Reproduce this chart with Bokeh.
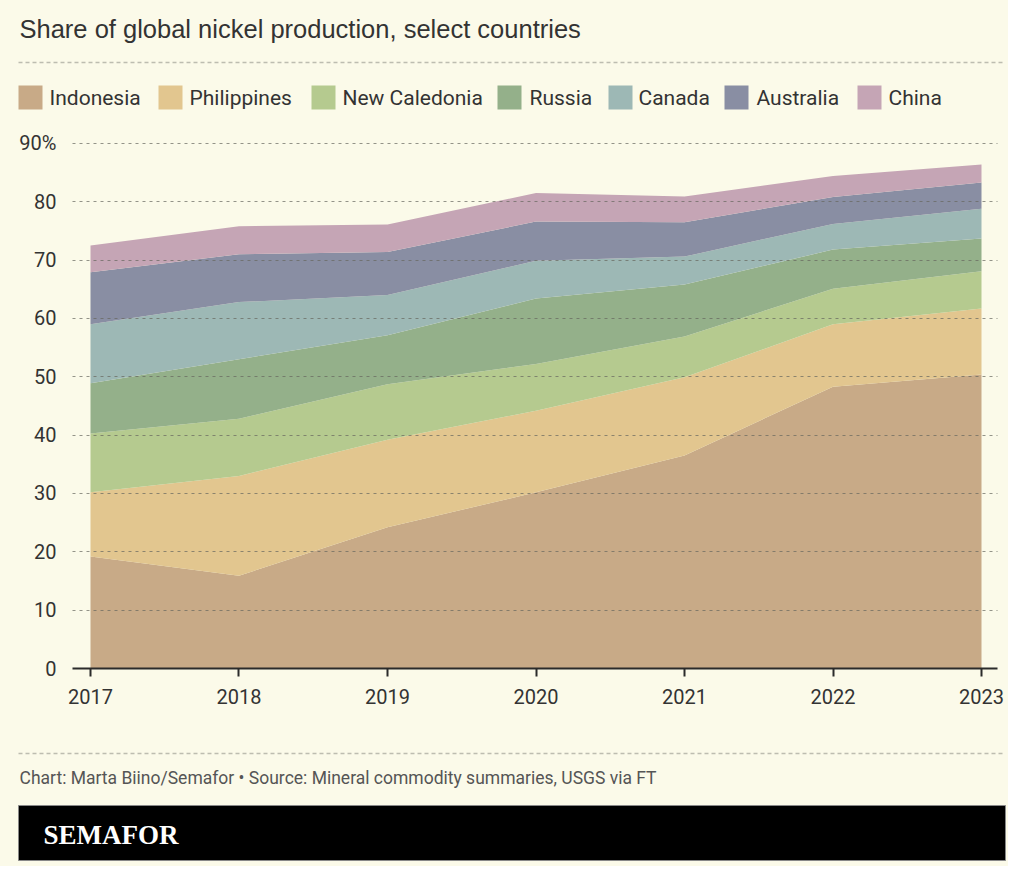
from bokeh.plotting import figure
from bokeh.models import ColumnDataSource, Range1d, FixedTicker
from bokeh.layouts import column
from bokeh.core.properties import value
from bokeh.embed import file_html
from bokeh.resources import INLINE

# ---- data ----
years = [2017, 2018, 2019, 2020, 2021, 2022, 2023]
countries = ["Indonesia", "Philippines", "New Caledonia", "Russia", "Canada", "Australia", "China"]
indonesia = [19.2, 15.9, 24.2, 30.2, 36.5, 48.3, 50.4]
philippines = [11.0, 17.1, 15.0, 14.0, 13.4, 10.7, 11.3]
new_caledonia = [10.1, 9.8, 9.5, 8.0, 7.0, 6.1, 6.4]
russia = [8.6, 10.2, 8.4, 11.2, 8.9, 6.7, 5.6]
canada = [10.1, 9.8, 6.9, 6.5, 4.8, 4.4, 5.1]
australia = [8.9, 8.2, 7.4, 6.7, 5.9, 4.6, 4.5]
china = [4.6, 4.8, 4.7, 4.9, 4.4, 3.6, 3.1]
y_ticks = [0, 10, 20, 30, 40, 50, 60, 70, 80, 90]

colors = ["#c8aa87", "#e2c68f", "#b5ca8f", "#94b08a", "#9db8b5", "#898ea3", "#c5a5b5"]

BG = "#fbfae9"
TXT = "#333333"
W = 1008

title_text = "Share of global nickel production, select countries"
source_text = "Chart: Marta Biino/Semafor \u2022 Source: Mineral commodity summaries, USGS via FT"


def blank(y0, y1):
    f = figure(width=W, height=y1 - y0, x_range=Range1d(0, W), y_range=Range1d(y1, y0),
               output_backend="svg", toolbar_location=None, min_border=0,
               x_axis_location=None, y_axis_location=None, frame_align=False)
    f.grid.visible = False
    f.outline_line_color = None
    f.background_fill_color = BG
    f.border_fill_color = BG
    return f


# ---- header ----
head = blank(0, 120)
head.text(x=[19], y=[28], text=[title_text], text_font=value("Liberation Sans"),
          text_font_size="25.5px", text_color=TXT, text_baseline="middle")
head.line(x=[18, 1005], y=[62, 62], line_color="#bdbdb0", line_dash="4 3", line_width=1.5)
sq_left = [18, 158, 311, 497, 608, 724, 857]
lab_left = [49, 189, 342, 529, 638, 756, 888]
head.quad(left=sq_left, right=[v + 24 for v in sq_left], top=[85] * 7, bottom=[109] * 7,
          fill_color=colors, line_color=None)
head.text(x=lab_left, y=[97] * 7, text=countries, text_font=value("Roboto"),
          text_font_size="21px", text_color=TXT, text_baseline="middle")

# ---- main chart ----
src = ColumnDataSource(dict(year=years, Indonesia=indonesia, Philippines=philippines,
                            NewCaledonia=new_caledonia, Russia=russia, Canada=canada,
                            Australia=australia, China=china))
p = figure(width=W, height=620, x_range=Range1d(2016.8788, 2023.1077), y_range=Range1d(0, 90.5),
           output_backend="svg", toolbar_location=None, frame_align=False,
           min_border_top=20, min_border_bottom=72, min_border_left=72, min_border_right=11)
p.background_fill_color = BG
p.border_fill_color = BG
p.outline_line_color = None
p.varea_stack(stackers=["Indonesia", "Philippines", "NewCaledonia", "Russia", "Canada",
                        "Australia", "China"], x="year", color=colors, source=src)

p.xaxis.ticker = FixedTicker(ticks=years)
p.yaxis.ticker = FixedTicker(ticks=y_ticks)
p.yaxis.major_label_overrides = {90: "90%"}
p.xgrid.visible = False
p.ygrid.grid_line_color = "#66665e"
p.ygrid.grid_line_alpha = 0.7
p.ygrid.grid_line_dash = "3 4"
p.ygrid.grid_line_width = 1.2
p.ygrid.level = "overlay"

p.yaxis.axis_line_color = None
p.yaxis.major_tick_line_color = None
p.yaxis.minor_tick_line_color = None
p.yaxis.major_label_standoff = 10

p.xaxis.axis_line_color = "#2b2b2b"
p.xaxis.axis_line_width = 2
p.xaxis.major_tick_line_color = "#2b2b2b"
p.xaxis.major_tick_line_width = 2
p.xaxis.major_tick_out = 8
p.xaxis.major_tick_in = 0
p.xaxis.minor_tick_line_color = None
p.xaxis.major_label_standoff = 12

for ax in (p.xaxis, p.yaxis):
    ax.major_label_text_font = "Roboto"
    ax.major_label_text_font_size = "20px"
    ax.major_label_text_color = TXT

# ---- footer ----
foot = blank(740, 866)
foot.line(x=[18, 1005], y=[753, 753], line_color="#bdbdb0", line_dash="4 3", line_width=1.5)
foot.text(x=[19], y=[777], text=[source_text], text_font=value("Roboto"),
          text_font_size="17.5px", text_color="#555555", text_baseline="middle")
foot.quad(left=[18], right=[1005], top=[805], bottom=[860], fill_color="#000000",
          line_color="#888888", line_width=1)
foot.text(x=[43], y=[834], text=["SEMAFOR"], text_font=value("Liberation Serif"),
          text_font_style="bold", text_font_size="27px", text_color="#ffffff",
          text_baseline="middle")

layout = column(head, p, foot, spacing=0, styles={"background-color": BG})
open("out.html", "w").write(file_html(layout, INLINE))
